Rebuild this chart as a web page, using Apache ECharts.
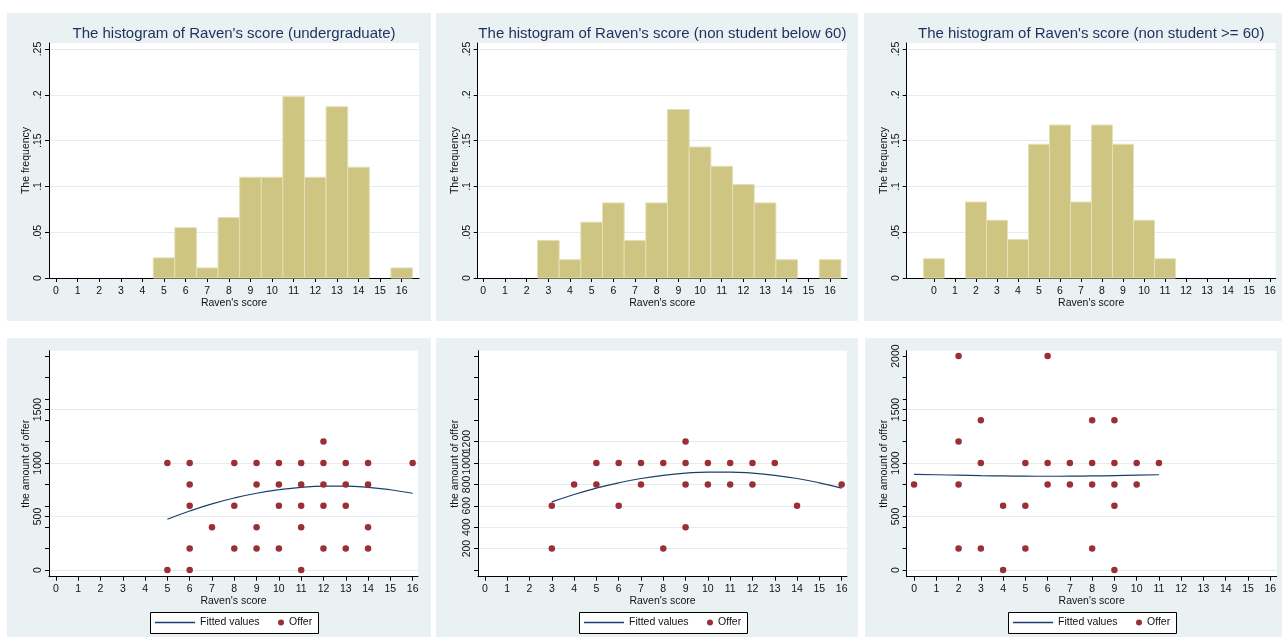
<!DOCTYPE html>
<html><head><meta charset="utf-8">
<script src="https://cdn.jsdelivr.net/npm/echarts@6/dist/echarts.min.js"></script>
<style>html,body{margin:0;padding:0;background:#fff;}#c{width:1282px;height:637px;}</style>
</head><body><div id="c"></div>
<script>
// ---------- data ----------
const scores = [0,1,2,3,4,5,6,7,8,9,10,11,12,13,14,15,16];
const freqUG  = [0,0,0,0,0,0.022,0.055,0.011,0.066,0.110,0.110,0.198,0.110,0.187,0.121,0,0.011];
const freqNS  = [0,0,0,0.041,0.020,0.061,0.082,0.041,0.082,0.184,0.143,0.122,0.102,0.082,0.020,0,0.020];
const freqOld = [0.021,0,0.083,0.063,0.042,0.146,0.167,0.083,0.167,0.146,0.063,0.021,0,0,0,0,0];

const offerUG = [[5,1000],[5,0],[6,1000],[6,800],[6,600],[6,200],[6,0],[7,400],[8,1000],[8,600],[8,200],
  [9,1000],[9,800],[9,400],[9,200],[10,1000],[10,800],[10,600],[10,200],[11,1000],[11,800],[11,600],[11,400],[11,0],
  [12,1200],[12,1000],[12,800],[12,600],[12,200],[13,1000],[13,800],[13,600],[13,200],[14,1000],[14,800],[14,400],[14,200],[16,1000]];
const offerNS = [[3,600],[3,200],[4,800],[5,1000],[5,800],[6,1000],[6,600],[7,1000],[7,800],[8,1000],[8,200],
  [9,1200],[9,1000],[9,800],[9,400],[10,1000],[10,800],[11,1000],[11,800],[12,1000],[12,800],[13,1000],[14,600],[16,800]];
const offerOld = [[0,800],[2,2000],[2,1200],[2,800],[2,200],[3,1400],[3,1000],[3,200],[4,600],[4,0],[5,1000],[5,600],[5,200],
  [6,2000],[6,1000],[6,800],[7,1000],[7,800],[8,1400],[8,1000],[8,800],[8,200],[9,1400],[9,1000],[9,800],[9,600],[9,0],[10,1000],[10,800],[11,1000]];

const fitUG  = [[5,474],[6,551],[7,618],[8,673],[9,717],[10,750],[11,773],[12,784],[13,784],[14,773],[15,750],[16,717]];
const fitNS  = [[3,636],[4,706],[5,765],[6,815],[7,855],[8,885],[9,905],[10,915],[11,915],[12,905],[13,885],[14,855],[15,815],[16,765]];
const fitOld = [[0,894],[1,890],[2,886],[3,882],[4,879],[5,877],[6,876],[7,877],[8,879],[9,882],[10,886],[11,890]];

const titles = ["The histogram of Raven's score (undergraduate)",
                "The histogram of Raven's score (non student below 60)",
                "The histogram of Raven's score (non student >= 60)"];
const xTicks = [0,1,2,3,4,5,6,7,8,9,10,11,12,13,14,15,16];
const freqTicks = [0,0.05,0.1,0.15,0.2,0.25];
const offerTicksA = [0,200,400,500,600,800,1000,1200,1400,1500,1600,1800,2000];
const offerTicksB = [0,200,400,600,800,1000,1200,1400,1600,1800,2000];
const offerLabelsUG = [0,500,1000,1500];
const offerLabelsNS = [200,400,600,800,1000,1200];
const offerLabelsOld = [0,500,1000,1500,2000];
const offerGridUG = [0,500,1000,1500];
const offerGridNS = [200,400,600,800,1000,1200];
const offerGridOld = [0,500,1000,1500];

// ---------- style / layout ----------
const FONT = '"Liberation Sans", Arial, sans-serif';
const BG = '#e9f1f3';
const BAR = '#cdc581';
const BAR_EDGE = '#e4dfb6';
const DOT = '#9b2f35';
const LINE = '#1b3f6c';
const GRIDC = '#e5ecee';
const TXT = '#111';

const panels = [
  {x:7, y:13, w:424, h:308}, {x:436, y:13, w:422, h:308}, {x:864, y:13, w:418, h:308},
  {x:7, y:338, w:424, h:299}, {x:436, y:338, w:422, h:299}, {x:865, y:338, w:417, h:299}
];
const grids = [
  {left:49,    top:43,    width:370,   height:235, xmin:-0.324, xmax:16.8},
  {left:477.7, top:43,    width:369.3, height:235, xmin:-0.258, xmax:16.78},
  {left:906.7, top:43,    width:369,   height:235, xmin:-1.3,   xmax:16.27},
  {left:49,    top:350.7, width:369,   height:226, xmin:-0.31,  xmax:16.24},
  {left:478,   top:350.7, width:369,   height:226, xmin:-0.31,  xmax:16.24},
  {left:906.7, top:350.7, width:370,   height:226, xmin:-0.33,  xmax:16.29}
];
const titleCenters = [234, 662.4, 1091.2];
const legendBoxLefts = [150, 579, 1008];

const labelStyle = {color: TXT, fontSize: 10.5, fontFamily: FONT};
const nameStyle = {color: TXT, fontSize: 10.5, fontFamily: FONT};

const xAxes = grids.map((g, i) => ({
  type: 'value', gridIndex: i, min: g.xmin, max: g.xmax,
  name: "Raven's score", nameLocation: 'middle', nameGap: i < 3 ? 18 : 16, nameTextStyle: nameStyle,
  axisLine: {show: true, onZero: false, lineStyle: {color: '#000', width: 1}},
  axisTick: {show: true, length: 4, lineStyle: {color: '#000'}, customValues: xTicks},
  axisLabel: Object.assign({margin: i < 3 ? 8 : 7, customValues: xTicks, showMinLabel: true, showMaxLabel: true}, labelStyle),
  splitLine: {show: false}
}));

function fmtFreq(v) { return v === 0 ? '0' : String(v).replace(/^0/, ''); }
function fmtPlain(v) { return String(Math.round(v)); }

const yAxes = [];
for (let i = 0; i < 3; i++) {
  yAxes.push({
    type: 'value', gridIndex: i, min: 0, max: 0.2566,
    name: 'The frequency', nameLocation: 'middle', nameGap: 17, nameTextStyle: nameStyle,
    axisLine: {show: true, onZero: false, lineStyle: {color: '#000', width: 1}},
    axisTick: {show: true, length: 4, lineStyle: {color: '#000'}, customValues: freqTicks},
    axisLabel: Object.assign({margin: 5, rotate: 90, customValues: freqTicks, formatter: fmtFreq,
      showMinLabel: true, showMaxLabel: true}, labelStyle),
    splitLine: {show: true, lineStyle: {color: GRIDC, width: 1}}
  });
}
const offTicks = [offerTicksA, offerTicksB, offerTicksA];
const offLabels = [offerLabelsUG, offerLabelsNS, offerLabelsOld];
const offGrid = [offerGridUG, offerGridNS, offerGridOld];
// labels are split in two alternating sets on two coincident axes so that
// neighbouring labels may overlap exactly as in the original
const evenOf = a => a.filter((v, j) => j % 2 === 0);
const oddOf = a => a.filter((v, j) => j % 2 === 1);
for (let k = 0; k < 3; k++) {
  yAxes.push({
    type: 'value', gridIndex: 3 + k, min: -63, max: 2050,
    name: 'the amount of offer', nameLocation: 'middle', nameGap: 17, nameTextStyle: nameStyle,
    axisLine: {show: true, onZero: false, lineStyle: {color: '#000', width: 1}},
    axisTick: {show: true, length: 4, lineStyle: {color: '#000'}, customValues: offTicks[k]},
    axisLabel: Object.assign({margin: 5, rotate: 90, customValues: evenOf(offLabels[k]), hideOverlap: false,
      showMinLabel: true, showMaxLabel: true, formatter: fmtPlain}, labelStyle),
    splitLine: {show: false}
  });
}
// helper axes: horizontal grid lines + the other half of the labels
for (let k = 0; k < 3; k++) {
  yAxes.push({
    type: 'value', gridIndex: 3 + k, min: -63, max: 2050, position: 'left', offset: 0,
    axisLine: {show: false, onZero: false},
    axisLabel: Object.assign({margin: 5, rotate: 90, customValues: oddOf(offLabels[k]), hideOverlap: false,
      showMinLabel: true, showMaxLabel: true, formatter: fmtPlain}, labelStyle),
    axisTick: {show: false, customValues: offGrid[k]},
    splitLine: {show: true, lineStyle: {color: GRIDC, width: 1}}, z: 0
  });
}

function histRender(params, api) {
  const x = api.value(0), h = api.value(1);
  if (!h) return null;
  const p0 = api.coord([x - 0.5, h]);
  const p1 = api.coord([x + 0.5, 0]);
  return {type: 'rect', shape: {x: p0[0], y: p0[1], width: p1[0] - p0[0], height: p1[1] - p0[1]},
          style: {fill: BAR, stroke: BAR_EDGE, lineWidth: 1}};
}
const freqs = [freqUG, freqNS, freqOld];
const offers = [offerUG, offerNS, offerOld];
const fits = [fitUG, fitNS, fitOld];

const series = [];
for (let i = 0; i < 3; i++) {
  series.push({type: 'custom', xAxisIndex: i, yAxisIndex: i, renderItem: histRender,
    data: scores.map((s, j) => [s, freqs[i][j]]), silent: true, z: 3});
}
for (let k = 0; k < 3; k++) {
  series.push({name: 'Fitted values', type: 'line', xAxisIndex: 3 + k, yAxisIndex: 3 + k, data: fits[k],
    smooth: true, symbol: 'none', lineStyle: {color: LINE, width: 1.2}, itemStyle: {color: LINE}, z: 4, silent: true});
  series.push({name: 'Offer', type: 'scatter', xAxisIndex: 3 + k, yAxisIndex: 3 + k, data: offers[k],
    symbol: 'circle', symbolSize: 6.5, itemStyle: {color: DOT, opacity: 1}, z: 5, silent: true});
}

const graphic = panels.map(p => ({type: 'rect', shape: {x: p.x, y: p.y, width: p.w, height: p.h},
  style: {fill: BG}, z: -10, silent: true}));
titles.forEach((t, i) => graphic.push({type: 'text', x: titleCenters[i], y: 34, z: 10,
  style: {text: t, align: 'center', verticalAlign: 'middle', fontSize: 15, fontFamily: FONT, fill: '#1e2f5e'}}));
legendBoxLefts.forEach(l => graphic.push({type: 'rect', shape: {x: l + 0.5, y: 612.5, width: 168, height: 21},
  style: {fill: '#fff', stroke: '#000', lineWidth: 1}, z: 1, silent: true}));

const legends = [];
legendBoxLefts.forEach(l => {
  legends.push({left: l + 1, top: 613, orient: 'horizontal',
    data: [{name: 'Fitted values', icon: 'rect'}],
    itemWidth: 40, itemHeight: 1.3, padding: [4, 4], z: 20,
    textStyle: {color: TXT, fontSize: 10.5, fontFamily: FONT}, selectedMode: false});
  legends.push({left: l + 124, top: 613, orient: 'horizontal',
    data: [{name: 'Offer', icon: 'circle'}],
    itemWidth: 6, itemHeight: 6, padding: [4, 4], z: 20,
    textStyle: {color: TXT, fontSize: 10.5, fontFamily: FONT}, selectedMode: false});
});

const chart = echarts.init(document.getElementById('c'), null, {renderer: 'canvas'});
chart.setOption({
  animation: false,
  backgroundColor: '#fff',
  textStyle: {fontFamily: FONT},
  graphic: graphic,
  grid: grids.map(g => ({left: g.left, top: g.top, width: g.width, height: g.height,
    show: true, backgroundColor: '#fff', borderWidth: 0, containLabel: false, outerBoundsMode: 'none'})),
  xAxis: xAxes,
  yAxis: yAxes,
  legend: legends,
  series: series
});
</script></body></html>
